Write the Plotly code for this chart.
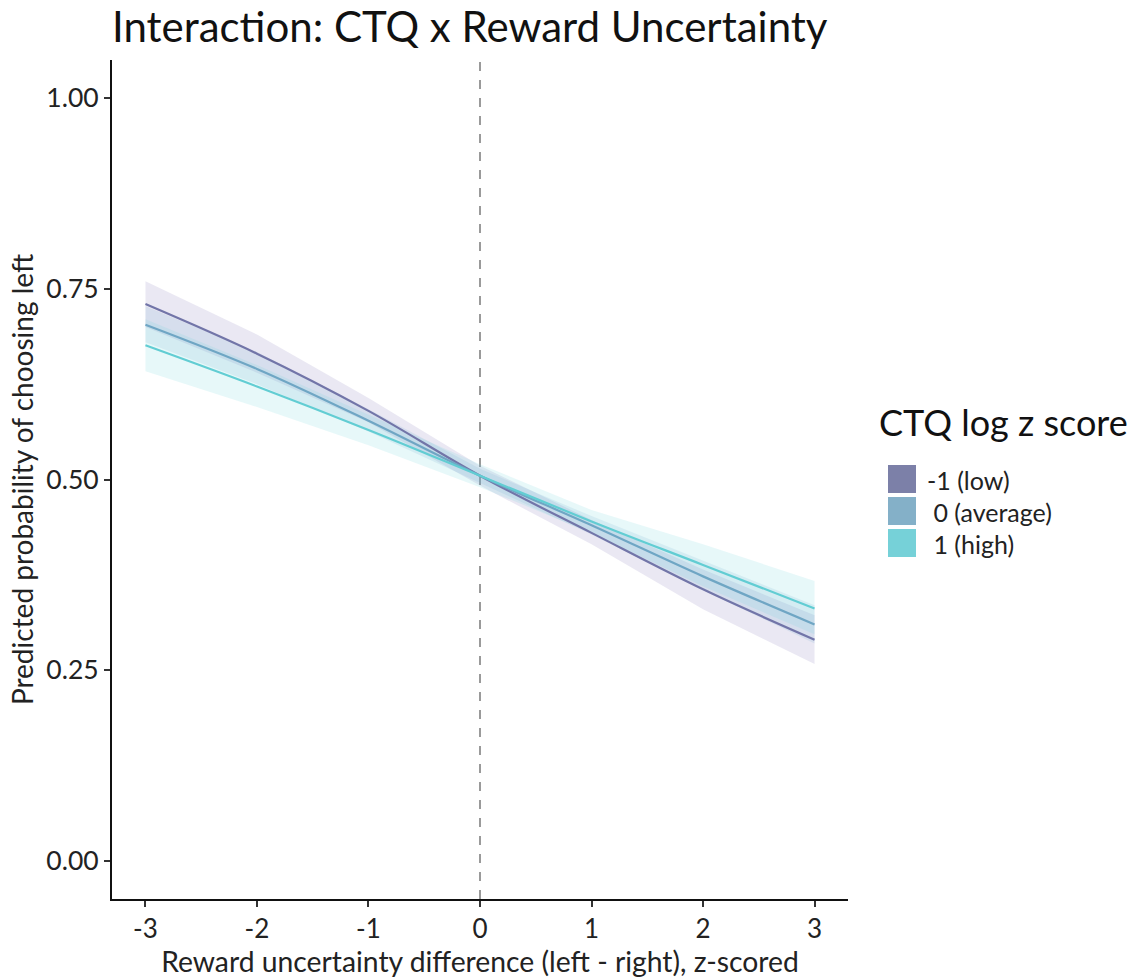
import plotly.graph_objects as go

x_vals = [-3, -2, -1, 0, 1, 2, 3]

low_fit = [0.730, 0.665, 0.590, 0.505, 0.430, 0.356, 0.290]
low_lo = [0.700, 0.640, 0.575, 0.492, 0.415, 0.330, 0.258]
low_hi = [0.760, 0.690, 0.607, 0.518, 0.447, 0.382, 0.322]

avg_fit = [0.703, 0.645, 0.577, 0.505, 0.440, 0.373, 0.310]
avg_lo = [0.680, 0.625, 0.563, 0.496, 0.428, 0.355, 0.285]
avg_hi = [0.727, 0.667, 0.592, 0.514, 0.452, 0.394, 0.335]

high_fit = [0.676, 0.622, 0.565, 0.505, 0.445, 0.388, 0.331]
high_lo = [0.642, 0.595, 0.545, 0.490, 0.430, 0.360, 0.297]
high_hi = [0.710, 0.650, 0.585, 0.520, 0.460, 0.415, 0.367]

groups = ["-1 (low)", " 0 (average)", " 1 (high)"]
line_colors = ["#7275a8", "#6fa6c4", "#62cdd3"]
key_colors = ["#7c80a8", "#84b0c8", "#76d1d8"]
fill_colors = ["rgba(130,120,185,0.17)", "rgba(120,170,205,0.17)", "rgba(110,215,220,0.17)"]

y_ticks = [0.0, 0.25, 0.5, 0.75, 1.0]
x_ticks = [-3, -2, -1, 0, 1, 2, 3]

series = [(low_fit, low_lo, low_hi), (avg_fit, avg_lo, avg_hi), (high_fit, high_lo, high_hi)]

W, H = 1135, 980
ML, MR, MT, MB = 112, 287, 60, 81
PW, PH = W - ML - MR, H - MT - MB


def px(xp):
    return (xp - ML) / PW


def py(yp):
    return (H - MB - yp) / PH


fig = go.Figure()
FONT = "Lato"

for i, (fit, lo, hi) in enumerate(series):
    fig.add_trace(go.Scatter(
        x=x_vals + x_vals[::-1], y=hi + lo[::-1], fill="toself",
        fillcolor=fill_colors[i], line=dict(width=0), mode="lines",
        showlegend=False, hoverinfo="skip"))

for i, (fit, lo, hi) in enumerate(series):
    fig.add_trace(go.Scatter(
        x=x_vals, y=fit, mode="lines", name=groups[i].strip(),
        line=dict(color=line_colors[i], width=2.2, shape="spline"),
        showlegend=False))

fig.add_shape(type="line", x0=0, x1=0, y0=-0.05, y1=1.05, xref="x", yref="y",
              line=dict(color="#7a7a7a", width=1.5, dash="dash"), layer="below")

annotations = [dict(text="CTQ log z score", x=px(877), xref="paper", xanchor="left",
                    y=py(422), yref="paper", yanchor="middle", showarrow=False,
                    font=dict(size=36, color="#111111", family=FONT))]

# manual legend (keys + labels)
for i in range(3):
    top = 465 + 32 * i
    fig.add_shape(type="rect", xref="paper", yref="paper",
                  x0=px(888), x1=px(916), y0=py(top + 28), y1=py(top),
                  fillcolor=key_colors[i], line=dict(width=0))
    annotations.append(dict(text=groups[i].replace(" ", "&nbsp;"), x=px(925), xref="paper", xanchor="left",
                            y=py(top + 15), yref="paper", yanchor="middle", showarrow=False,
                            font=dict(size=25, color="#222222", family=FONT)))

fig.update_layout(
    width=W, height=H,
    margin=dict(l=ML, r=MR, t=MT, b=MB),
    plot_bgcolor="white", paper_bgcolor="white",
    font=dict(family=FONT, color="#222222"),
    showlegend=False,
    title=dict(text="Interaction: CTQ x Reward Uncertainty", x=0.0, xref="paper", xanchor="left",
               y=1 - 27 / 980, yref="container", yanchor="middle",
               font=dict(size=42, family=FONT, color="#111111")),
    xaxis=dict(range=[-3.3, 3.3], tickvals=x_ticks, ticktext=[str(v) for v in x_ticks],
               showgrid=False, zeroline=False, showline=True, linecolor="#111111", linewidth=2,
               ticks="outside", ticklen=6, tickcolor="#333333", tickwidth=1.5,
               tickfont=dict(size=26, color="#222222"), automargin=False,
               title=dict(text="Reward uncertainty difference (left - right), z-scored",
                          font=dict(size=28.3, color="#222222"), standoff=6)),
    yaxis=dict(range=[-0.05, 1.05], tickvals=y_ticks, ticktext=[f"{v:.2f}" for v in y_ticks],
               showgrid=False, zeroline=False, showline=True, linecolor="#111111", linewidth=2,
               ticks="outside", ticklen=6, tickcolor="#333333", tickwidth=1.5,
               tickfont=dict(size=26.5, color="#222222"), automargin=False,
               title=dict(text="Predicted probability of choosing left",
                          font=dict(size=28, color="#222222"), standoff=5)),
    annotations=annotations,
)

fig.write_html("out.html")
